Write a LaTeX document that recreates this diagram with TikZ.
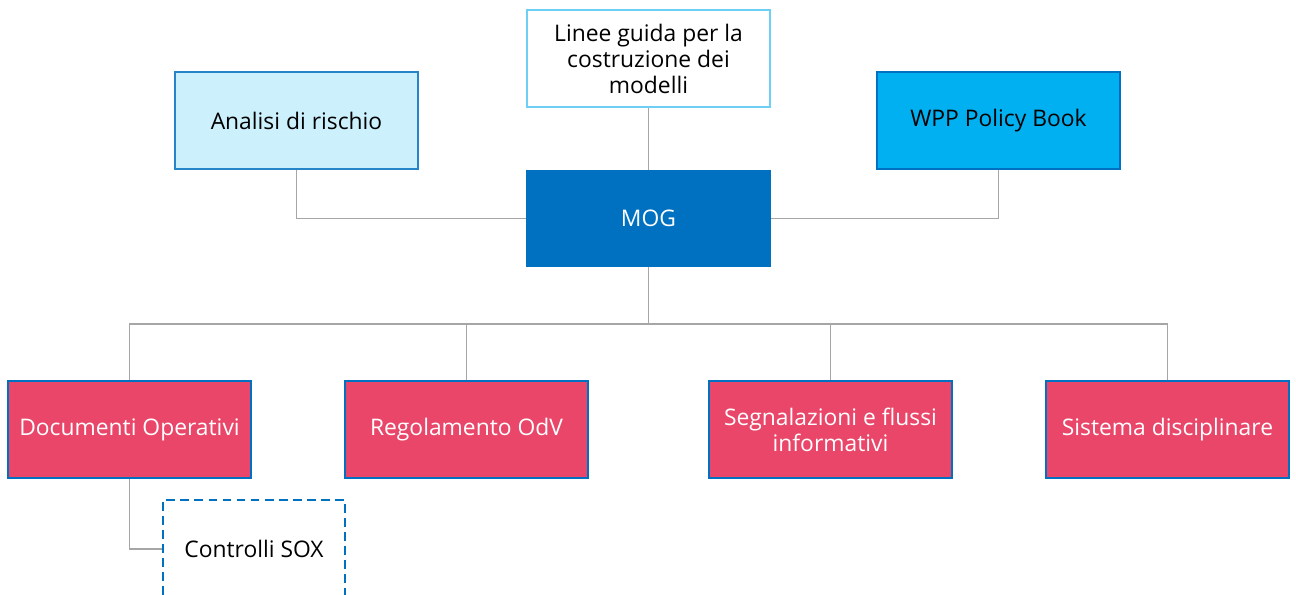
\documentclass[tikz,border=0pt]{standalone}
\usepackage{fontspec}
\setmainfont{Open Sans}
\usepackage{tikz}

\definecolor{mogblue}{HTML}{0070C0}
\definecolor{wppblue}{HTML}{00B0F0}
\definecolor{lightcyan}{HTML}{CCF1FD}
\definecolor{paleblue}{HTML}{6DCFF6}
\definecolor{boxred}{HTML}{E94669}
\definecolor{wiregray}{HTML}{A6A6A6}

\begin{document}
\begin{tikzpicture}[x=0.02cm, y=-0.02cm,
  box/.style={draw, line width=1pt, minimum width=4.86cm, minimum height=1.94cm,
    align=center, font=\fontsize{13}{14.8}\selectfont},
  redbox/.style={box, draw=mogblue, fill=boxred, text=white},
  wire/.style={draw=wiregray, line width=0.8pt}]
\useasboundingbox (0,0) rectangle (1296,595);
\clip (0,0) rectangle (1296,595);
% top row
\node[box, draw=paleblue, fill=white] (linee) at (648.5,58.5) {Linee guida per la\\costruzione dei\\modelli};
\node[box, draw=mogblue!85, fill=lightcyan] (analisi) at (296.5,120.5) {Analisi di rischio};
\node[box, draw=mogblue, fill=wppblue] (wpp) at (998.5,120.5) {WPP Policy Book};
\node[box, draw=mogblue, fill=mogblue, text=white, minimum height=1.9cm] (mog) at (648.5,218.5) {MOG};
% bottom row
\node[redbox] (doc) at (129.5,429.5) {Documenti Operativi};
\node[redbox] (reg) at (466.5,429.5) {Regolamento OdV};
\node[redbox] (segn) at (830.5,429.5) {Segnalazioni e flussi\\informativi};
\node[redbox] (sist) at (1167.5,429.5) {Sistema disciplinare};
\node[box, draw=mogblue, dashed, dash pattern=on 5pt off 3pt, fill=white, minimum width=3.64cm, minimum height=1.96cm] (sox) at (254,549) {Controlli SOX};
% connectors
\coordinate (bus) at (648.5,324);
\draw[wire] (linee) -- (mog);
\draw[wire] (analisi.south) |- (mog.west);
\draw[wire] (wpp.south) |- (mog.east);
\foreach \n in {doc,reg,segn,sist}
  \draw[wire] (mog.south) -- (bus) -| (\n.north);
\draw[wire] (doc.south) |- (sox.west);
\end{tikzpicture}
\end{document}
